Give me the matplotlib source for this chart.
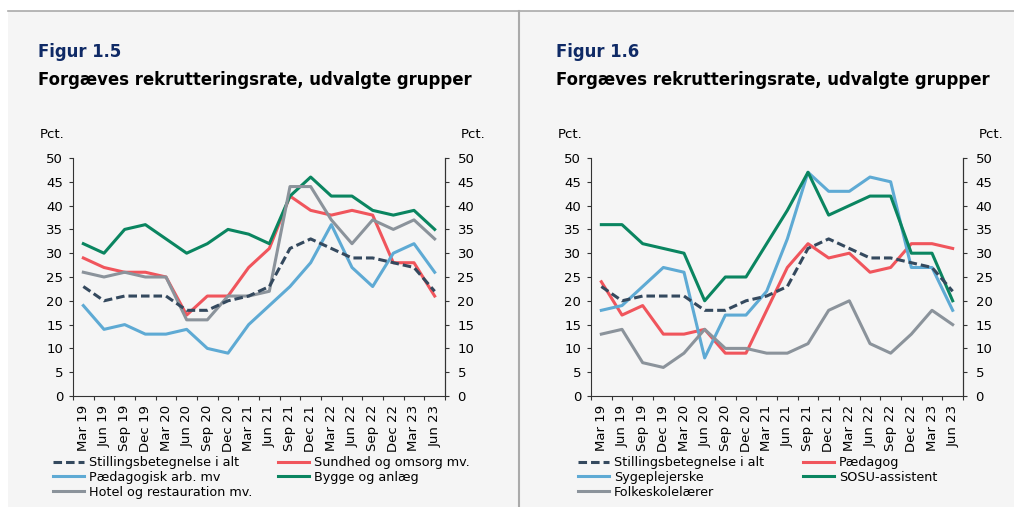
import matplotlib
matplotlib.use('Agg')
import matplotlib.pyplot as plt
from matplotlib.lines import Line2D

plt.rcParams['font.family'] = ['DejaVu Sans']

# --- Data ---
kvartaler = ['Mar 19', 'Jun 19', 'Sep 19', 'Dec 19', 'Mar 20', 'Jun 20', 'Sep 20', 'Dec 20',
             'Mar 21', 'Jun 21', 'Sep 21', 'Dec 21', 'Mar 22', 'Jun 22', 'Sep 22', 'Dec 22',
             'Mar 23', 'Jun 23']

i_alt = [23, 20, 21, 21, 21, 18, 18, 20, 21, 23, 31, 33, 31, 29, 29, 28, 27, 22]

# Figur 1.5
sundhed = [29, 27, 26, 26, 25, 17, 21, 21, 27, 31, 42, 39, 38, 39, 38, 28, 28, 21]
paedagogisk = [19, 14, 15, 13, 13, 14, 10, 9, 15, 19, 23, 28, 36, 27, 23, 30, 32, 26]
bygge = [32, 30, 35, 36, 33, 30, 32, 35, 34, 32, 42, 46, 42, 42, 39, 38, 39, 35]
hotel = [26, 25, 26, 25, 25, 16, 16, 21, 21, 22, 44, 44, 37, 32, 37, 35, 37, 33]

# Figur 1.6
paedagog = [24, 17, 19, 13, 13, 14, 9, 9, 18, 27, 32, 29, 30, 26, 27, 32, 32, 31]
sygeplejerske = [18, 19, 23, 27, 26, 8, 17, 17, 22, 33, 47, 43, 43, 46, 45, 27, 27, 18]
sosu = [36, 36, 32, 31, 30, 20, 25, 25, 32, 39, 47, 38, 40, 42, 42, 30, 30, 20]
folkeskole = [13, 14, 7, 6, 9, 14, 10, 10, 9, 9, 11, 18, 20, 11, 9, 13, 18, 15]

# --- Farver ---
C_ALT = '#34495e'
C_RED = '#f0555c'
C_BLUE = '#5eaad4'
C_GREEN = '#0a8560'
C_GRAY = '#8b939b'
C_NAVY = '#0f2a66'
BG = '#f5f5f5'
TXT = 9.5    # tick-skrift
LEG = 9.2    # legend-skrift
TIT = 11.9   # overskrifter

fig = plt.figure(figsize=(10.14, 5.07), dpi=100)
fig.patch.set_facecolor(BG)

# hvid kant + skillelinjer
fig.patches.append(plt.Rectangle((0, 1 - 11 / 507), 1, 11 / 507, transform=fig.transFigure,
                                 facecolor='white', edgecolor='none', zorder=0))
fig.patches.append(plt.Rectangle((0, 0), 8 / 1014, 1, transform=fig.transFigure,
                                 facecolor='white', edgecolor='none', zorder=0))
fig.add_artist(Line2D([8 / 1014, 1], [1 - 11 / 507] * 2, transform=fig.transFigure,
                      color='#aaaaaa', lw=1.2))
fig.add_artist(Line2D([519 / 1014] * 2, [0, 1 - 11 / 507], transform=fig.transFigure,
                      color='#aaaaaa', lw=1.5))


def tegn_panel(x0_px, figur, serier, leg_x1, leg_x2):
    ax = fig.add_axes([x0_px / 1014, 1 - 396 / 507, 372 / 1014, 238 / 507])
    ax.set_facecolor(BG)
    x = list(range(len(kvartaler)))
    handles = {}
    for navn, vals, farve, ls in serier:
        if ls == '--':
            h, = ax.plot(x, vals, color=farve, lw=2.2, dashes=(2.8, 1.3), zorder=4)
        else:
            h, = ax.plot(x, vals, color=farve, lw=2.2, zorder=3)
        handles[navn] = h
    ax.set_xlim(-0.5, len(kvartaler) - 0.5)
    ax.set_ylim(0, 50)
    ax.set_yticks(range(0, 51, 5))
    ax.set_xticks(x)
    ax.set_xticklabels(kvartaler, rotation=90, fontsize=TXT)
    ax.set_xticks([i + 0.5 for i in range(-1, len(kvartaler))], minor=True)
    ax.tick_params(axis='x', which='major', length=0, pad=6.5)
    ax.tick_params(axis='x', which='minor', length=3, direction='out', width=0.8, color='#333333')
    ax.tick_params(axis='y', labelsize=TXT, length=3, width=0.8, color='#333333', pad=4)
    ax.spines['top'].set_visible(False)
    for s in ['left', 'right', 'bottom']:
        ax.spines[s].set_color('#333333')
        ax.spines[s].set_linewidth(0.8)
    ay = ax.twinx()
    ay.set_ylim(0, 50)
    ay.set_yticks(range(0, 51, 5))
    ay.tick_params(axis='y', labelsize=TXT, length=3, width=0.8, color='#333333', pad=6)
    for s in ['top', 'left', 'bottom']:
        ay.spines[s].set_visible(False)
    ay.spines['right'].set_color('#333333')
    ay.spines['right'].set_linewidth(0.8)

    fig.text((x0_px - 35) / 1014, 1 - 52 / 507, figur, fontsize=TIT, fontweight='bold',
             color=C_NAVY, va='center', ha='left')
    fig.text((x0_px - 35) / 1014, 1 - 80 / 507, 'Forgæves rekrutteringsrate, udvalgte grupper',
             fontsize=TIT, fontweight='bold', color='black', va='center', ha='left')
    fig.text((x0_px - 33) / 1014, 1 - 134 / 507, 'Pct.', fontsize=TXT, va='center', ha='left')
    fig.text((x0_px + 372 + 40) / 1014, 1 - 134 / 507, 'Pct.', fontsize=TXT, va='center', ha='right')

    navne = [s[0] for s in serier]
    kol1 = [navne[0], navne[2], navne[4]]
    kol2 = [navne[1], navne[3]]
    opts = dict(loc='upper left', bbox_transform=fig.transFigure, frameon=False,
                fontsize=LEG, handlelength=2.4, handletextpad=0.4,
                labelspacing=0.15, borderaxespad=0, borderpad=0)
    leg1 = ax.legend([handles[n] for n in kol1], kol1,
                     bbox_to_anchor=(leg_x1 / 1014, 1 - 456 / 507), **opts)
    ax.add_artist(leg1)
    ax.legend([handles[n] for n in kol2], kol2,
              bbox_to_anchor=(leg_x2 / 1014, 1 - 456 / 507), **opts)
    return ax


tegn_panel(73, 'Figur 1.5', [
    ('Stillingsbetegnelse i alt', i_alt, C_ALT, '--'),
    ('Sundhed og omsorg mv.', sundhed, C_RED, '-'),
    ('Pædagogisk arb. mv', paedagogisk, C_BLUE, '-'),
    ('Bygge og anlæg', bygge, C_GREEN, '-'),
    ('Hotel og restauration mv.', hotel, C_GRAY, '-'),
], 53, 278)

tegn_panel(591, 'Figur 1.6', [
    ('Stillingsbetegnelse i alt', i_alt, C_ALT, '--'),
    ('Pædagog', paedagog, C_RED, '-'),
    ('Sygeplejerske', sygeplejerske, C_BLUE, '-'),
    ('SOSU-assistent', sosu, C_GREEN, '-'),
    ('Folkeskolelærer', folkeskole, C_GRAY, '-'),
], 578, 803)

fig.savefig('out.png', dpi=100, facecolor=fig.get_facecolor())
